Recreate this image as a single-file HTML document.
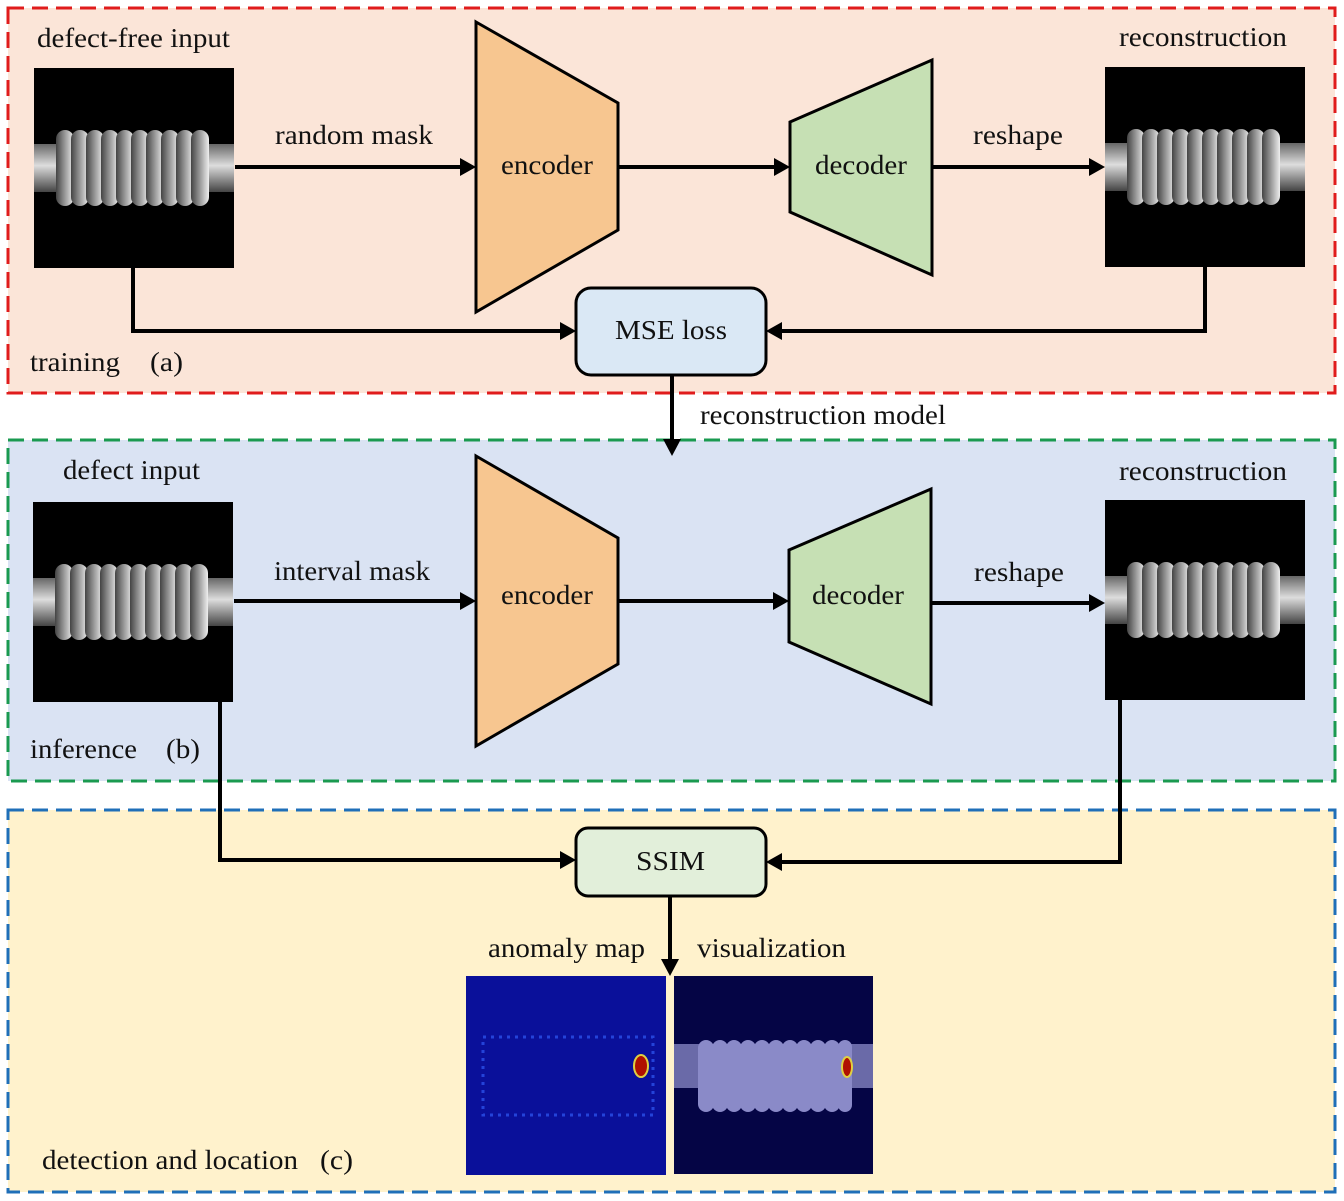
<!DOCTYPE html>
<html><head><meta charset="utf-8"><style>
html,body{margin:0;padding:0;background:#fff}
svg{display:block}
text{font-family:"Liberation Serif","DejaVu Serif",serif;font-size:27px;fill:#111}
</style></head><body>
<svg width="1344" height="1201" viewBox="0 0 1344 1201" xmlns="http://www.w3.org/2000/svg">
<defs>
<linearGradient id="rod" x1="0" y1="0" x2="0" y2="1"><stop offset="0" stop-color="#666"/><stop offset="0.45" stop-color="#ddd"/><stop offset="1" stop-color="#444"/></linearGradient>
<linearGradient id="disc" x1="0" y1="0" x2="1" y2="0"><stop offset="0" stop-color="#444"/><stop offset="0.6" stop-color="#aaa"/><stop offset="1" stop-color="#eee"/></linearGradient>
<g id="ins">
<rect width="200" height="200" fill="#000"/>
<rect x="0" y="76" width="200" height="48" fill="url(#rod)"/>
<g fill="url(#disc)">
<rect x="22" y="62" width="18" height="76" rx="9"/><rect x="37" y="62" width="18" height="76" rx="9"/><rect x="52" y="62" width="18" height="76" rx="9"/><rect x="67" y="62" width="18" height="76" rx="9"/><rect x="82" y="62" width="18" height="76" rx="9"/><rect x="97" y="62" width="18" height="76" rx="9"/><rect x="112" y="62" width="18" height="76" rx="9"/><rect x="127" y="62" width="18" height="76" rx="9"/><rect x="142" y="62" width="18" height="76" rx="9"/><rect x="157" y="62" width="18" height="76" rx="9"/>
</g>
</g>
</defs>

<rect x="8" y="8" width="1327" height="385" fill="#fbe5d8" stroke="#e01c1c" stroke-width="3" stroke-dasharray="16,8"/>
<rect x="8" y="440" width="1327" height="341" fill="#dae3f3" stroke="#1a9a50" stroke-width="3" stroke-dasharray="16,8"/>
<rect x="8" y="810" width="1327" height="382" fill="#fff2cc" stroke="#1f6fb8" stroke-width="3" stroke-dasharray="16,8"/>

<use href="#ins" x="34" y="68"/>
<use href="#ins" x="1105" y="67"/>
<use href="#ins" x="33" y="502"/>
<use href="#ins" x="1105" y="500"/>

<rect x="466" y="976" width="200" height="199" fill="#0a109a"/>
<rect x="483" y="1037" width="170" height="78" fill="none" stroke="#2a50e8" stroke-width="3" stroke-dasharray="3,5" opacity="0.8"/>
<ellipse cx="641" cy="1066" rx="7" ry="11" fill="#b01000" stroke="#e0d040" stroke-width="2"/>
<rect x="674" y="976" width="199" height="198" fill="#050545"/>
<rect x="674" y="1044" width="199" height="44" fill="#6a6aa8"/>
<g fill="#8a8ac8">
<rect x="698" y="1040" width="16" height="72" rx="8"/><rect x="712" y="1040" width="16" height="72" rx="8"/><rect x="726" y="1040" width="16" height="72" rx="8"/><rect x="740" y="1040" width="16" height="72" rx="8"/><rect x="754" y="1040" width="16" height="72" rx="8"/><rect x="768" y="1040" width="16" height="72" rx="8"/><rect x="782" y="1040" width="16" height="72" rx="8"/><rect x="796" y="1040" width="16" height="72" rx="8"/><rect x="810" y="1040" width="16" height="72" rx="8"/><rect x="824" y="1040" width="16" height="72" rx="8"/><rect x="838" y="1040" width="14" height="72" rx="7"/>
</g>
<ellipse cx="847" cy="1067" rx="5" ry="10" fill="#b01000" stroke="#e0d040" stroke-width="2"/>

<polygon points="476,22 618,103 618,230 476,312" fill="#f7c690" stroke="#000" stroke-width="3"/>
<polygon points="790,122 932,60 932,275 790,212" fill="#c6e0b4" stroke="#000" stroke-width="3"/>
<polygon points="476,456 618,538 618,664 476,746" fill="#f7c690" stroke="#000" stroke-width="3"/>
<polygon points="789,550 931,489 931,704 789,642" fill="#c6e0b4" stroke="#000" stroke-width="3"/>

<rect x="576" y="288" width="190" height="87" rx="15" fill="#dae8f5" stroke="#000" stroke-width="3"/>
<rect x="576" y="828" width="190" height="68" rx="12" fill="#e2efda" stroke="#000" stroke-width="3"/>

<g stroke="#000" stroke-width="4" fill="none">
<path d="M235,167H462"/><path d="M618,167H776"/><path d="M932,167H1091"/>
<path d="M234,601H462"/><path d="M618,601H775"/><path d="M931,603H1091"/>
<path d="M133,268V331H562"/><path d="M1205,267V331H780"/>
<path d="M672,375V441"/>
<path d="M220,702V860H562"/><path d="M1120,700V862H780"/>
<path d="M670,896V962"/>
</g>
<g fill="#000">
<polygon points="476,167 460,158 460,176"/><polygon points="790,167 774,158 774,176"/><polygon points="1105,167 1089,158 1089,176"/>
<polygon points="476,601 460,592 460,610"/><polygon points="789,601 773,592 773,610"/><polygon points="1105,603 1089,594 1089,612"/>
<polygon points="576,331 560,322 560,340"/><polygon points="766,331 782,322 782,340"/>
<polygon points="672,456 663,439 681,439"/>
<polygon points="576,860 560,851 560,869"/><polygon points="766,862 782,853 782,871"/>
<polygon points="670,976 661,959 679,959"/>
</g>

<g font-family="Liberation Serif, serif" lengthAdjust="spacingAndGlyphs">
<text x="37" y="47" textLength="193" lengthAdjust="spacingAndGlyphs">defect-free input</text>
<text x="1119" y="46" textLength="168" lengthAdjust="spacingAndGlyphs">reconstruction</text>
<text x="275" y="144" textLength="158" lengthAdjust="spacingAndGlyphs">random mask</text>
<text x="501" y="174" textLength="92" lengthAdjust="spacingAndGlyphs">encoder</text>
<text x="815" y="174" textLength="92" lengthAdjust="spacingAndGlyphs">decoder</text>
<text x="973" y="144" textLength="90" lengthAdjust="spacingAndGlyphs">reshape</text>
<text x="615" y="339" textLength="112" lengthAdjust="spacingAndGlyphs">MSE loss</text>
<text x="30" y="371" textLength="90" lengthAdjust="spacingAndGlyphs">training</text>
<text x="150" y="371" textLength="33" lengthAdjust="spacingAndGlyphs">(a)</text>
<text x="700" y="424" textLength="246" lengthAdjust="spacingAndGlyphs">reconstruction model</text>
<text x="63" y="479" textLength="137" lengthAdjust="spacingAndGlyphs">defect input</text>
<text x="1119" y="480" textLength="168" lengthAdjust="spacingAndGlyphs">reconstruction</text>
<text x="274" y="580" textLength="156" lengthAdjust="spacingAndGlyphs">interval mask</text>
<text x="501" y="604" textLength="92" lengthAdjust="spacingAndGlyphs">encoder</text>
<text x="812" y="604" textLength="92" lengthAdjust="spacingAndGlyphs">decoder</text>
<text x="974" y="581" textLength="90" lengthAdjust="spacingAndGlyphs">reshape</text>
<text x="30" y="758" textLength="107" lengthAdjust="spacingAndGlyphs">inference</text>
<text x="166" y="758" textLength="34" lengthAdjust="spacingAndGlyphs">(b)</text>
<text x="636" y="870" textLength="69" lengthAdjust="spacingAndGlyphs">SSIM</text>
<text x="488" y="957" textLength="157" lengthAdjust="spacingAndGlyphs">anomaly map</text>
<text x="697" y="957" textLength="149" lengthAdjust="spacingAndGlyphs">visualization</text>
<text x="42" y="1169" textLength="256" lengthAdjust="spacingAndGlyphs">detection and location</text>
<text x="320" y="1169" textLength="33" lengthAdjust="spacingAndGlyphs">(c)</text>
</g>
</svg>
</body></html>
